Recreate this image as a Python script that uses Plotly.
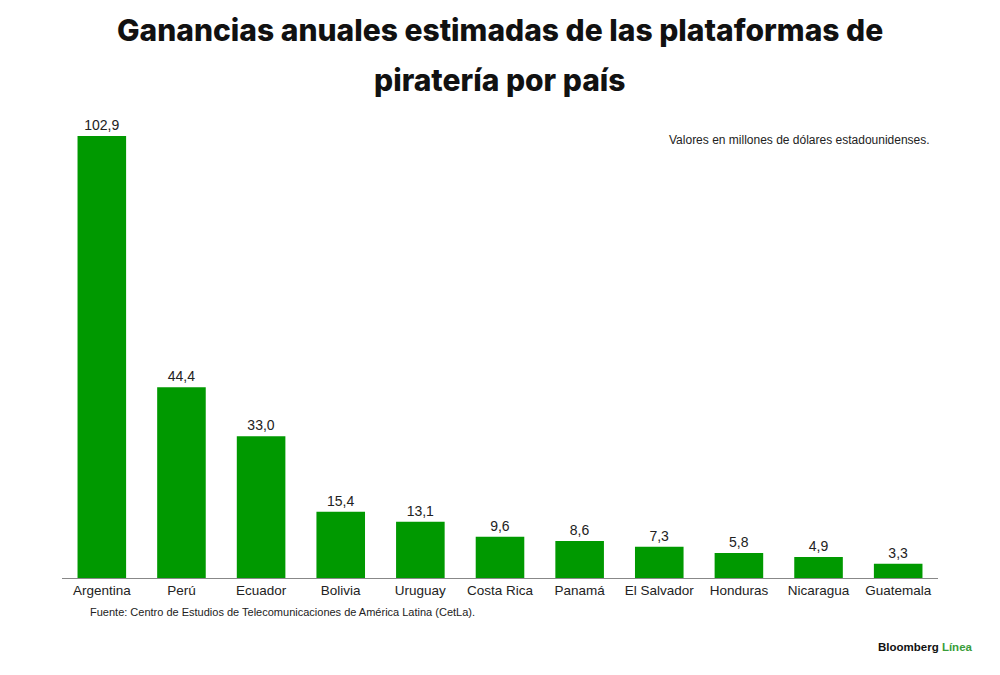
import plotly.graph_objects as go

paises = ["Argentina", "Perú", "Ecuador", "Bolivia", "Uruguay", "Costa Rica",
          "Panamá", "El Salvador", "Honduras", "Nicaragua", "Guatemala"]
ganancias = [102.9, 44.4, 33.0, 15.4, 13.1, 9.6, 8.6, 7.3, 5.8, 4.9, 3.3]

etiquetas = [f"{v:.1f}".replace(".", ",") for v in ganancias]

VERDE = "#009900"
TITULO = dict(family="Inter, Arial", size=30, color="#111", weight=800)

fig = go.Figure(go.Bar(
    x=paises, y=ganancias,
    text=etiquetas, textposition="outside", cliponaxis=False,
    textfont=dict(family="Arial, Liberation Sans", size=14, color="#222"),
    marker=dict(color=VERDE, line=dict(width=0)),
    width=0.61,
))

fig.update_layout(
    width=1000, height=675,
    paper_bgcolor="white", plot_bgcolor="white",
    margin=dict(l=54, r=70, t=112, b=105),
    showlegend=False,
    font=dict(family="Arial, Liberation Sans", color="#222"),
    xaxis=dict(showgrid=False, showline=True, linecolor="#888", linewidth=1,
               ticks="", ticklabelstandoff=0, tickfont=dict(size=13.5, color="#222")),
    yaxis=dict(range=[0, 106.6], visible=False),
    annotations=[
        dict(text="Ganancias anuales estimadas de las plataformas de",
             x=0.5, y=1.1965, xref="paper", yref="paper", yanchor="middle",
             showarrow=False, font=TITULO),
        dict(text="piratería por país",
             x=0.5, y=1.0873, xref="paper", yref="paper", yanchor="middle",
             showarrow=False, font=TITULO),
        dict(text="Valores en millones de dólares estadounidenses.",
             xref="paper", yref="paper", x=0.993, y=0.956, xanchor="right", yanchor="middle",
             showarrow=False, font=dict(size=12, color="#222")),
        dict(text="Fuente: Centro de Estudios de Telecomunicaciones de América Latina (CetLa).",
             xref="paper", yref="paper", x=0.030, y=-0.074, xanchor="left", yanchor="middle",
             showarrow=False, font=dict(size=11, color="#222")),
        dict(text="<b>Bloomberg <span style='color:#3a9d3a'>Línea</span></b>",
             xref="paper", yref="paper", x=1.042, y=-0.1507, xanchor="right", yanchor="middle",
             showarrow=False, font=dict(size=11.5, color="#111")),
    ],
)

fig.write_html("out.html")
